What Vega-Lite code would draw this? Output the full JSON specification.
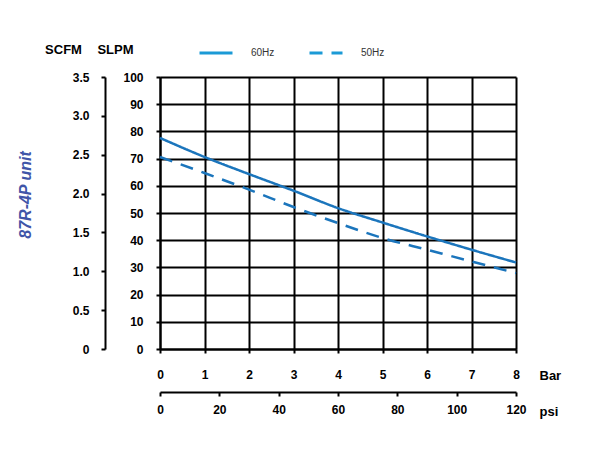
{
  "$schema": "https://vega.github.io/schema/vega-lite/v6.json",
  "width": 356,
  "height": 272,
  "autosize": "none",
  "padding": {"left": 160, "top": 77, "right": 84, "bottom": 109},
  "background": "white",
  "config": {
    "font": "Liberation Sans",
    "view": {"stroke": null},
    "axis": {
      "domainColor": "black",
      "domainWidth": 2,
      "tickColor": "black",
      "tickWidth": 2,
      "tickSize": 4,
      "labelFont": "Liberation Sans",
      "labelFontSize": 12,
      "labelFontWeight": "bold",
      "labelColor": "black",
      "labelFlush": false,
      "labelBound": false,
      "labelOverlap": false,
      "titleFont": "Liberation Sans",
      "titleFontSize": 13,
      "titleFontWeight": "bold",
      "titleColor": "black",
      "titleAngle": 0,
      "titleBaseline": "middle"
    }
  },
  "title": {
    "text": "87R-4P unit",
    "orient": "left",
    "anchor": "middle",
    "offset": 11,
    "dx": 18,
    "color": "#4055A8",
    "fontSize": 16,
    "fontWeight": "bold",
    "fontStyle": "italic",
    "font": "Liberation Sans"
  },
  "layer": [
    {
      "data": {
        "values": [
          {"bar": 0, "slpm": 77.6, "series": "60Hz"},
          {"bar": 1, "slpm": 70.6, "series": "60Hz"},
          {"bar": 2, "slpm": 64.3, "series": "60Hz"},
          {"bar": 3, "slpm": 58.2, "series": "60Hz"},
          {"bar": 4, "slpm": 51.8, "series": "60Hz"},
          {"bar": 5, "slpm": 46.5, "series": "60Hz"},
          {"bar": 6, "slpm": 41.4, "series": "60Hz"},
          {"bar": 7, "slpm": 36.5, "series": "60Hz"},
          {"bar": 8, "slpm": 31.8, "series": "60Hz"},
          {"bar": 0, "slpm": 70.6, "series": "50Hz"},
          {"bar": 1, "slpm": 64.7, "series": "50Hz"},
          {"bar": 2, "slpm": 58.6, "series": "50Hz"},
          {"bar": 3, "slpm": 52.2, "series": "50Hz"},
          {"bar": 4, "slpm": 46.3, "series": "50Hz"},
          {"bar": 5, "slpm": 40.8, "series": "50Hz"},
          {"bar": 6, "slpm": 36.5, "series": "50Hz"},
          {"bar": 7, "slpm": 32.2, "series": "50Hz"},
          {"bar": 8, "slpm": 27.9, "series": "50Hz"}
        ]
      },
      "mark": {"type": "line", "color": "#1B75BC", "strokeWidth": 2.5, "interpolate": "monotone"},
      "encoding": {
        "x": {
          "field": "bar", "type": "quantitative",
          "scale": {"domain": [0, 8], "nice": false, "zero": false},
          "axis": {
            "orient": "bottom", "values": [0, 1, 2, 3, 4, 5, 6, 7, 8],
            "grid": true, "gridColor": "black", "gridWidth": 2, "gridOpacity": 1,
            "labelPadding": 16, "title": "Bar", "titleX": 379, "titleY": 26, "titleAlign": "left"
          }
        },
        "y": {
          "field": "slpm", "type": "quantitative",
          "scale": {"domain": [0, 100], "nice": false},
          "axis": {
            "orient": "left", "values": [0, 10, 20, 30, 40, 50, 60, 70, 80, 90, 100],
            "grid": true, "gridColor": "black", "gridWidth": 2, "gridOpacity": 1,
            "labelPadding": 13, "title": "SLPM", "titleX": -45, "titleY": -28, "titleAlign": "center"
          }
        },
        "strokeDash": {
          "field": "series", "type": "nominal",
          "scale": {"domain": ["60Hz", "50Hz"], "range": [[1, 0], [13, 9]]},
          "legend": {
            "title": null,
            "orient": "none",
            "legendX": 38,
            "legendY": -42,
            "direction": "horizontal",
            "symbolType": "stroke",
            "symbolSize": 1089,
            "symbolStrokeColor": "#1B9AD6",
            "symbolStrokeWidth": 3,
            "labelFontSize": 10,
            "labelFont": "Liberation Sans",
            "labelColor": "#333333",
            "labelOffset": 17,
            "columnPadding": 28,
            "padding": 0
          }
        }
      }
    },
    {
      "data": {"values": [{"psi": 0, "scfm": 0}, {"psi": 120, "scfm": 3.5}]},
      "mark": {"type": "point", "opacity": 0},
      "encoding": {
        "x": {
          "field": "psi", "type": "quantitative",
          "scale": {"domain": [0, 120], "nice": false},
          "axis": {
            "orient": "bottom", "offset": 43, "values": [0, 20, 40, 60, 80, 100, 120],
            "grid": false, "labelPadding": 8,
            "title": "psi", "titleX": 379, "titleY": 19, "titleAlign": "left"
          }
        },
        "y": {
          "field": "scfm", "type": "quantitative",
          "scale": {"domain": [0, 3.5], "nice": false},
          "axis": {
            "orient": "left", "offset": 55, "values": [0, 0.5, 1, 1.5, 2, 2.5, 3, 3.5],
            "labelExpr": "datum.value == 0 ? '0' : format(datum.value, '.1f')",
            "grid": false, "labelPadding": 12,
            "title": "SCFM", "titleX": -42, "titleY": -28, "titleAlign": "center"
          }
        }
      }
    }
  ],
  "resolve": {"scale": {"x": "independent", "y": "independent", "strokeDash": "independent"}}
}
